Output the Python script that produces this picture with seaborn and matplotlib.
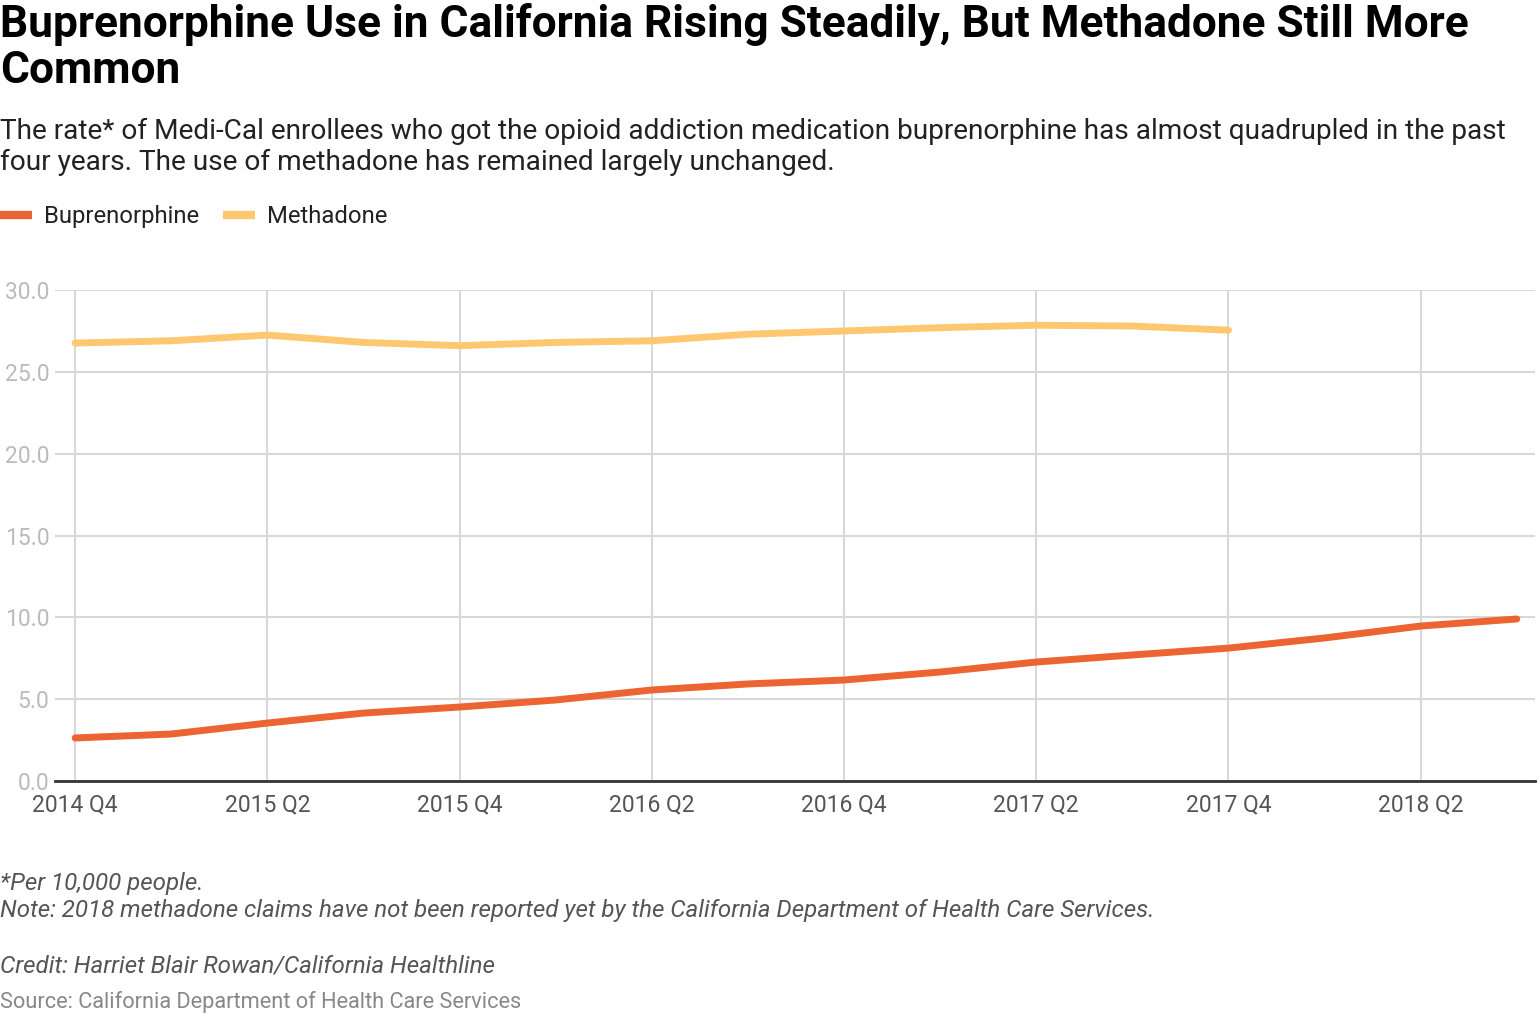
import numpy as np
import pandas as pd
import matplotlib
matplotlib.use("Agg")
import matplotlib.pyplot as plt
import seaborn as sns

QUARTERS = [
    "2014 Q4", "2015 Q1", "2015 Q2", "2015 Q3", "2015 Q4", "2016 Q1",
    "2016 Q2", "2016 Q3", "2016 Q4", "2017 Q1", "2017 Q2", "2017 Q3",
    "2017 Q4", "2018 Q1", "2018 Q2", "2018 Q3",
]
BUPRENORPHINE = [2.63, 2.87, 3.54, 4.15, 4.52, 4.95, 5.56, 5.93,
                 6.17, 6.66, 7.27, 7.70, 8.12, 8.74, 9.47, 9.90]
# no methadone figures reported for 2018 yet
METHADONE = [26.76, 26.90, 27.25, 26.80, 26.60, 26.80, 26.90, 27.30,
             27.50, 27.70, 27.85, 27.80, 27.55, np.nan, np.nan, np.nan]
Y_TICKS = [0, 5, 10, 15, 20, 25, 30]

ORANGE = "#eb6431"
YELLOW = "#ffc870"
H = 1026.0


def fy(px):
    # pixel row measured from the top -> figure fraction
    return 1 - px / H


sns.set_theme(style="white")
plt.rcParams["font.family"] = ["Roboto", "DejaVu Sans"]

df = pd.DataFrame({
    "q": np.arange(len(QUARTERS)),
    "Buprenorphine": BUPRENORPHINE,
    "Methadone": METHADONE,
}).melt(id_vars="q", var_name="series", value_name="rate").dropna()

fig = plt.figure(figsize=(15.4, 10.26), dpi=100)
ax = fig.add_axes([0.0357, 0.2388, 0.9611, 0.4785])

sns.lineplot(
    data=df, x="q", y="rate", hue="series",
    palette={"Buprenorphine": ORANGE, "Methadone": YELLOW},
    linewidth=5, ax=ax, legend=False,
    solid_capstyle="round", solid_joinstyle="round",
)

ax.set_xlim(-0.21, 15.19)
ax.set_ylim(0, 30)
ax.set_yticks(Y_TICKS)
ax.set_yticklabels([f"{v:.1f}" for v in Y_TICKS])
ax.set_xticks(np.arange(0, len(QUARTERS), 2))
ax.set_xticklabels(QUARTERS[::2])
ax.grid(True, color="#d8d8d8", linewidth=1.5)
ax.set_axisbelow(True)
for side in ["top", "right", "left"]:
    ax.spines[side].set_visible(False)
ax.spines["bottom"].set_color("#333333")
ax.spines["bottom"].set_linewidth(2)
ax.tick_params(axis="y", colors="#bbbbbb", labelsize=16.5, length=0, pad=4)
ax.tick_params(axis="x", colors="#555555", labelsize=16.5, length=0, pad=9)
ax.set_xlabel("")
ax.set_ylabel("")

fig.text(0.0, fy(37), "Buprenorphine Use in California Rising Steadily, But Methadone Still More",
         fontsize=31.9, fontweight="bold", va="baseline", ha="left", color="#000000")
fig.text(0.0, fy(83), "Common",
         fontsize=31.9, fontweight="bold", va="baseline", ha="left", color="#000000")
fig.text(0.0, fy(139), "The rate* of Medi-Cal enrollees who got the opioid addiction medication buprenorphine has almost quadrupled in the past",
         fontsize=20.15, va="baseline", ha="left", color="#222222")
fig.text(0.0, fy(170), "four years. The use of methadone has remained largely unchanged.",
         fontsize=20.15, va="baseline", ha="left", color="#222222")

# legend built by hand to mimic the flat swatches
fig.add_artist(plt.Line2D([0.0, 0.021], [fy(215), fy(215)], color=ORANGE, linewidth=6,
                          solid_capstyle="butt", transform=fig.transFigure))
fig.text(0.0286, fy(223), "Buprenorphine", fontsize=17.2, va="baseline", ha="left", color="#222222")
fig.add_artist(plt.Line2D([0.1448, 0.1656], [fy(215), fy(215)], color=YELLOW, linewidth=6,
                          solid_capstyle="butt", transform=fig.transFigure))
fig.text(0.1734, fy(223), "Methadone", fontsize=17.2, va="baseline", ha="left", color="#222222")

fig.text(0.0, fy(890), "*Per 10,000 people.",
         fontsize=17.4, style="italic", va="baseline", ha="left", color="#555555")
fig.text(0.0, fy(917), "Note: 2018 methadone claims have not been reported yet by the California Department of Health Care Services.",
         fontsize=17.4, style="italic", va="baseline", ha="left", color="#555555")
fig.text(0.0, fy(973), "Credit: Harriet Blair Rowan/California Healthline",
         fontsize=17.4, style="italic", va="baseline", ha="left", color="#555555")
fig.text(0.0, fy(1008), "Source: California Department of Health Care Services",
         fontsize=15.7, va="baseline", ha="left", color="#888888")

fig.savefig("out.png", dpi=100)
